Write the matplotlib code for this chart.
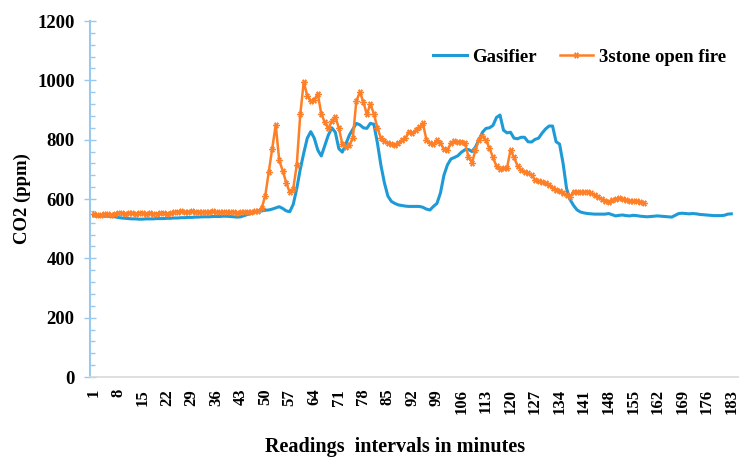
import matplotlib
matplotlib.use("Agg")
import matplotlib.pyplot as plt
from matplotlib.ticker import MultipleLocator

# CO2 readings (ppm), one per minute
gasifier = [
    543, 543, 543, 542, 542, 541, 540, 538, 536, 535,
    534, 533, 533, 532, 532, 533, 533, 533, 534, 534,
    534, 535, 535, 536, 536, 537, 537, 538, 538, 539,
    539, 540, 540, 540, 541, 541, 541, 542, 542, 541,
    540, 539, 540, 544, 548, 552, 556, 558, 560, 562,
    563, 566, 570, 574, 568, 560, 557, 582, 635, 700,
    755, 805, 827, 805, 765, 745, 780, 815, 840, 825,
    770, 758, 785, 815, 835, 855, 850, 840, 838, 855,
    852, 790, 715, 655, 610, 592, 585, 580, 578, 576,
    575, 575, 575, 575, 572, 566, 563, 575, 585, 620,
    680, 715, 735, 740, 746, 758, 766, 767, 760, 775,
    800, 825, 838, 840, 848, 875, 883, 832, 823, 825,
    805, 803, 808, 808, 793, 792, 801, 805, 822, 836,
    846, 846, 793, 785, 720, 635, 598, 578, 563, 556,
    553, 551, 550, 549, 549, 549, 549, 551, 547, 543,
    545, 546, 544, 543, 545, 544, 542, 541, 540, 541,
    542, 543, 542, 541, 540, 539, 545, 551, 552, 551,
    550, 551, 550, 548, 547, 546, 545, 544, 544, 544,
    545, 549, 550,
]

open_fire = [
    548, 546, 547, 549, 548, 547, 551, 553, 552, 551,
    553, 552, 551, 552, 553, 551, 552, 550, 551, 553,
    552, 551, 553, 555, 557, 558, 556, 557, 558, 556,
    557, 555, 556, 557, 558, 556, 555, 556, 557, 555,
    556, 554, 555, 556, 557, 556, 558, 560, 570, 610,
    690, 770, 850, 730, 695, 655, 622, 635, 715, 885,
    995, 948, 930, 935, 954, 888, 858, 838, 862, 877,
    840, 785, 775, 782, 805, 930, 960, 928, 885, 920,
    888, 840, 806, 794, 788, 785, 782, 790, 798, 805,
    827, 822, 832, 842, 855, 800, 788, 784, 798, 788,
    768, 766, 788, 794, 792, 793, 790, 742, 722, 765,
    800, 812, 798, 772, 740, 710, 700, 703, 705, 765,
    740, 712, 697, 690, 688, 680, 665, 660, 656, 653,
    647, 638, 632, 626, 620, 612, 608, 625, 625, 622,
    622, 625, 620, 612, 606, 600, 594, 591, 596, 600,
    602, 599, 596, 594, 593, 592, 590, 588,
]

x_ticks = list(range(1, 184, 7))
y_ticks = [0, 200, 400, 600, 800, 1000, 1200]

plt.rcParams['font.family'] = ['Liberation Serif', 'DejaVu Serif']
plt.rcParams['font.weight'] = 'bold'

fig = plt.figure(figsize=(7.39, 4.59), dpi=100)
ax = fig.add_axes([90 / 739, 82 / 459, 649 / 739, 356 / 459])

blue = '#1e9bd7'
orange = '#ff7f27'
axis_blue = '#9cc8ec'

ax.plot(range(1, len(gasifier) + 1), gasifier, color=blue, lw=2.2,
        label='Gasifier', solid_joinstyle='round')
ax.plot(range(1, len(open_fire) + 1), open_fire, color=orange, lw=1.8,
        marker=(6, 2, 90), ms=4.5, mew=1.0, label='3stone open fire')

ax.set_xlim(0, 185.2)
ax.set_ylim(0, 1200)
ax.set_xticks(x_ticks)
ax.set_xticklabels([str(t) for t in x_ticks], rotation=90, fontsize=12,
                   fontweight='bold')
ax.set_yticks(y_ticks)
ax.set_yticklabels([str(t) for t in y_ticks], fontsize=13.5, fontweight='bold')
ax.yaxis.set_minor_locator(MultipleLocator(40))

ax.tick_params(axis='x', length=0, pad=8.5)
ax.tick_params(axis='y', which='major', direction='inout', length=9,
               width=1, color=axis_blue, pad=6.5)
ax.tick_params(axis='y', which='minor', direction='in', length=3.5,
               width=1, color=axis_blue)

for side in ['top', 'right']:
    ax.spines[side].set_visible(False)
ax.spines['left'].set_color(axis_blue)
ax.spines['left'].set_linewidth(1.5)
ax.spines['bottom'].set_color('#d9d9d9')
ax.spines['bottom'].set_linewidth(1.2)

leg = ax.legend(loc='center left', bbox_to_anchor=((433 - 90) / 649, (377 - 57) / 356),
                ncol=2, frameon=False, borderpad=0, borderaxespad=0,
                handlelength=1.8, handletextpad=0.3, columnspacing=1.2,
                prop={'family': 'Liberation Serif', 'weight': 'bold', 'size': 13.5})

fig.text(22 / 739, 1 - 199 / 459, 'CO2 (ppm)', rotation=90, ha='center',
         va='center', fontsize=13.5, fontweight='bold')
fig.text(395 / 739, 0.004, 'Readings  intervals in minutes', ha='center',
         va='bottom', fontsize=14.5, fontweight='bold')

fig.savefig('out.png', dpi=100)
